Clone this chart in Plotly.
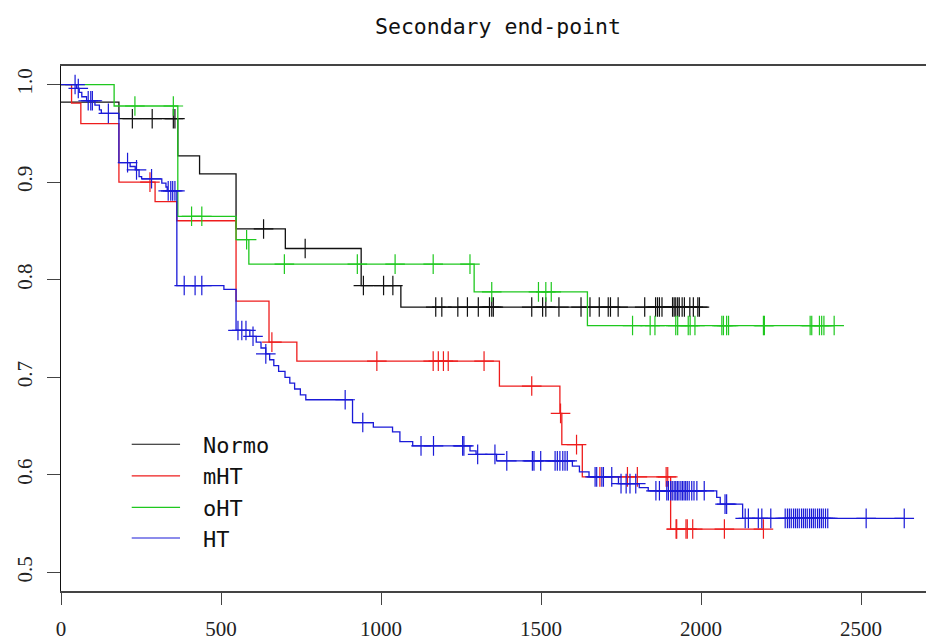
import numpy as np
import plotly.graph_objects as go

# Kaplan-Meier step data per group: event times and survival after each step
normo_t = [0, 181, 365, 433, 547, 701, 938, 1062]
normo_s = [0.982, 0.965, 0.927, 0.9085, 0.852, 0.832, 0.794, 0.772]
normo_end = 1995
normo_cens = [223, 285, 351, 356, 633, 763, 945, 1008, 1037, 1171, 1190, 1240,
              1270, 1304, 1339, 1346, 1351, 1471, 1505, 1515, 1556, 1625, 1653,
              1682, 1710, 1717, 1741, 1824, 1858, 1864, 1870, 1878, 1911, 1916,
              1921, 1927, 1932, 1941, 1948, 1965, 1976, 1990, 1995]

mht_t = [0, 33, 62, 181, 294, 362, 547, 650, 737, 1370, 1559, 1565, 1629, 1905]
mht_s = [1.0, 0.981, 0.96, 0.90, 0.88, 0.8604, 0.778, 0.736, 0.7166, 0.691,
         0.663, 0.631, 0.598, 0.5445]
mht_end = 2195
mht_cens = [278, 659, 987, 1163, 1179, 1195, 1210, 1322, 1471, 1561, 1611, 1684,
            1770, 1801, 1891, 1896, 1922, 1924, 1953, 1957, 1974, 2073, 2195]

oht_t = [0, 166, 365, 547, 587, 1291, 1645]
oht_s = [1.0, 0.978, 0.865, 0.841, 0.816, 0.7875, 0.753]
oht_end = 2416
oht_cens = [231, 351, 408, 440, 580, 698, 926, 1044, 1163, 1278, 1346, 1492,
            1515, 1532, 1786, 1841, 1856, 1921, 1927, 1960, 1966, 1981, 2065,
            2070, 2080, 2086, 2195, 2198, 2341, 2346, 2370, 2377, 2384, 2416]

ht_t = [0, 49, 57, 65, 80, 106, 120, 126, 181, 216, 232, 244, 252, 315, 328,
        332, 362, 509, 547, 590, 610, 625, 640, 652, 665, 680, 700, 715, 730,
        748, 765, 911, 976, 1036, 1059, 1099, 1278, 1297, 1361, 1598, 1620,
        1650, 1742, 1807, 1835, 2049, 2060, 2130]
ht_s = [1.0, 0.996, 0.992, 0.9875, 0.9834, 0.979, 0.974, 0.9705, 0.920, 0.916,
        0.9126, 0.9057, 0.9034, 0.899, 0.895, 0.891, 0.794, 0.790, 0.748,
        0.742, 0.736, 0.730, 0.724, 0.718, 0.712, 0.706, 0.700, 0.694, 0.688,
        0.682, 0.677, 0.6536, 0.649, 0.644, 0.634, 0.6297, 0.6245, 0.621,
        0.6143, 0.609, 0.603, 0.598, 0.591, 0.587, 0.5837, 0.577, 0.570, 0.5554]
ht_end = 2635
ht_cens = [44, 54, 85, 93, 98, 148, 208, 236, 283, 335, 343, 349, 356, 385, 419,
           440, 553, 565, 578, 600, 640, 888, 943, 1125, 1164, 1255, 1259, 1302,
           1356, 1393, 1473, 1478, 1499, 1544, 1551, 1559, 1568, 1575, 1582,
           1669, 1674, 1690, 1695, 1721, 1750, 1766, 1778, 1796, 1859, 1870,
           1893, 1898, 1905, 1910, 1916, 1921, 1926, 1931, 1937, 1942, 1947,
           1952, 1957, 1963, 1971, 1978, 1987, 2010, 2075, 2080, 2138, 2148,
           2179, 2190, 2218, 2263, 2270, 2276, 2282, 2289, 2295, 2301, 2307,
           2314, 2320, 2326, 2332, 2339, 2345, 2351, 2357, 2364, 2370, 2376,
           2382, 2389, 2396, 2516, 2635]

group_names = ["Normo", "mHT", "oHT", "HT"]
group_colors = ["#111111", "#ee1c1c", "#1fc81f", "#1a1ad8"]

x_ticks = [0, 500, 1000, 1500, 2000, 2500]
y_ticks = [0.5, 0.6, 0.7, 0.8, 0.9, 1.0]

groups = [
    (normo_t, normo_s, normo_end, normo_cens),
    (mht_t, mht_s, mht_end, mht_cens),
    (oht_t, oht_s, oht_end, oht_cens),
    (ht_t, ht_s, ht_end, ht_cens),
]

fig = go.Figure()

for (t, s, end, cens), name, col in zip(groups, group_names, group_colors):
    t_arr = np.array(t, dtype=float)
    s_arr = np.array(s, dtype=float)
    xs = list(t_arr) + [end]
    ys = list(s_arr) + [s_arr[-1]]
    fig.add_trace(go.Scatter(
        x=xs, y=ys, mode="lines", name=name, showlegend=False,
        line=dict(color=col, width=1.3, shape="hv"), hoverinfo="skip"))
    c_arr = np.array(cens, dtype=float)
    idx = np.searchsorted(t_arr, c_arr, side="right") - 1
    fig.add_trace(go.Scatter(
        x=c_arr, y=s_arr[idx], mode="markers", showlegend=False,
        marker=dict(symbol="cross-thin", size=14,
                    line=dict(color=col, width=1.2)),
        hoverinfo="skip"))

# Legend drawn as line samples plus labels inside the plot area
leg_y = [0.6314, 0.599, 0.5667, 0.5353]
for name, col, yy in zip(group_names, group_colors, leg_y):
    fig.add_shape(type="line", xref="x", yref="y", x0=221, x1=372, y0=yy, y1=yy,
                  line=dict(color=col, width=1.2))
    fig.add_annotation(x=437, y=yy, xref="x", yref="y", text=name,
                       showarrow=False, xanchor="left", yanchor="middle",
                       yshift=-1,
                       font=dict(family="DejaVu Sans Mono", size=22,
                                 color="#111111"))

fig.add_annotation(x=0.505, y=1.075, xref="paper", yref="paper",
                   text="Secondary end-point", showarrow=False,
                   xanchor="center", yanchor="middle",
                   font=dict(family="DejaVu Sans Mono", size=21.5,
                             color="#111111"))

axis_col = "#444444"
fig.update_layout(
    width=926, height=640,
    margin=dict(l=61, r=0, t=66, b=49, autoexpand=False),
    plot_bgcolor="white", paper_bgcolor="white",
    xaxis=dict(range=[0, 2703], tickvals=x_ticks,
               ticktext=[str(v) for v in x_ticks], automargin=False,
               ticks="outside", ticklen=12, tickwidth=1.2, tickcolor=axis_col,
               showline=True, linecolor=axis_col, linewidth=1.5, mirror=True,
               showgrid=False, zeroline=False, ticklabelstandoff=6,
               tickfont=dict(family="Liberation Serif", size=21,
                             color="#222222")),
    yaxis=dict(range=[0.481, 1.019], tickvals=y_ticks,
               ticktext=["%.1f" % v for v in y_ticks], tickangle=-90,
               automargin=False,
               ticks="outside", ticklen=13, tickwidth=1.2, tickcolor=axis_col,
               showline=True, linecolor="#111111", linewidth=1.2, mirror=False,
               showgrid=False, zeroline=False, ticklabelstandoff=7,
               tickfont=dict(family="Liberation Serif", size=21,
                             color="#222222")),
)

fig.write_html("out.html")
